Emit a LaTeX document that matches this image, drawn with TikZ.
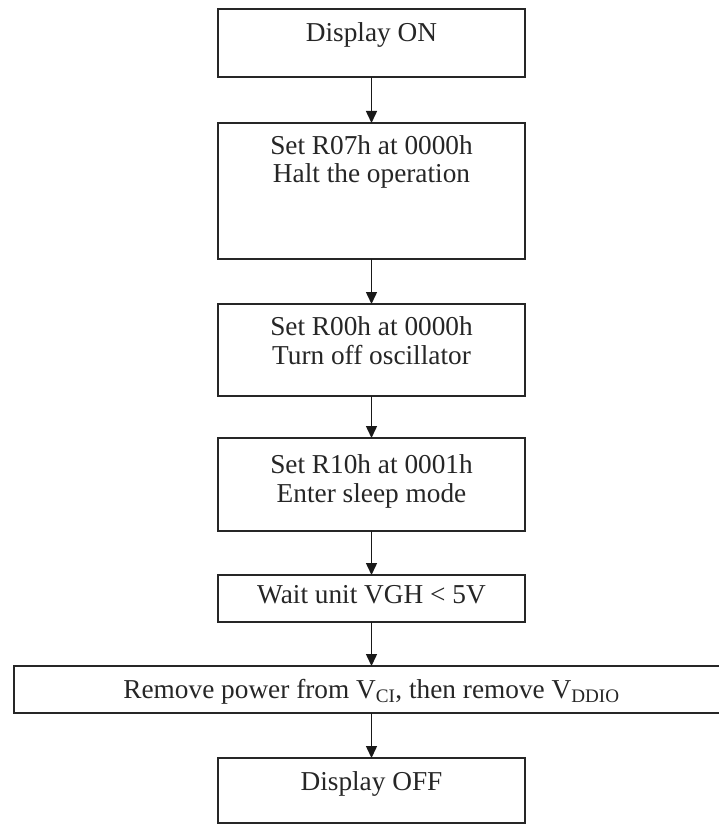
\documentclass[tikz,border=0pt]{standalone}
\usepackage{fontspec}
\setmainfont{Liberation Serif}
\usetikzlibrary{arrows.meta}
\begin{document}
\begin{tikzpicture}[x=1pt,y=-1pt,
  box/.style={draw=black!85, line width=2pt, minimum width=307pt, inner sep=0pt, outer sep=0pt},
  txt/.style={anchor=base, inner sep=0pt, font=\fontsize{27.3}{30}\selectfont, text=black!85},
  conn/.style={draw=black!90, line width=1.5pt, -{Triangle[width=11pt,length=12pt]}}]
\useasboundingbox (0,0) rectangle (718,824);
\fill[white] (0,0) rectangle (718,824);
\node[box, minimum height=68pt]  (b1) at (371.5,43) {};
\node[box, minimum height=136pt] (b2) at (371.5,191) {};
\node[box, minimum height=92pt]  (b3) at (371.5,350) {};
\node[box, minimum height=93pt]  (b4) at (371.5,484.5) {};
\node[box, minimum height=47pt]  (b5) at (371.5,598.5) {};
\node[box, minimum height=47pt, minimum width=715pt] (b6) at (371.5,689.5) {};
\node[box, minimum height=65pt]  (b7) at (371.5,790.5) {};
\node[txt] (t1) at (371.5,42) {Display ON};
\node[txt] (t2a) at (371.5,154) {Set R07h at 0000h};
\node[txt] (t2b) at (371.5,182) {Halt the operation};
\node[txt] (t3a) at (371.5,335) {Set R00h at 0000h};
\node[txt] (t3b) at (371.5,364) {Turn off oscillator};
\node[txt] (t4a) at (371.5,473) {Set R10h at 0001h};
\node[txt] (t4b) at (371.5,502) {Enter sleep mode};
\node[txt] (t5) at (371.5,603) {Wait unit VGH < 5V};
\node[txt] (t6) at (371.5,698) {Remove power from V\textsubscript{CI}, then remove V\textsubscript{DDIO}};
\node[txt] (t7) at (371.5,790) {Display OFF};
\draw[conn] (b1.south) -- (b2.north);
\draw[conn] (b2.south) -- (b3.north);
\draw[conn] (b3.south) -- (b4.north);
\draw[conn] (b4.south) -- (b5.north);
\draw[conn] (b5.south) -- (b6.north);
\draw[conn] (b6.south) -- (b7.north);
\end{tikzpicture}
\end{document}
